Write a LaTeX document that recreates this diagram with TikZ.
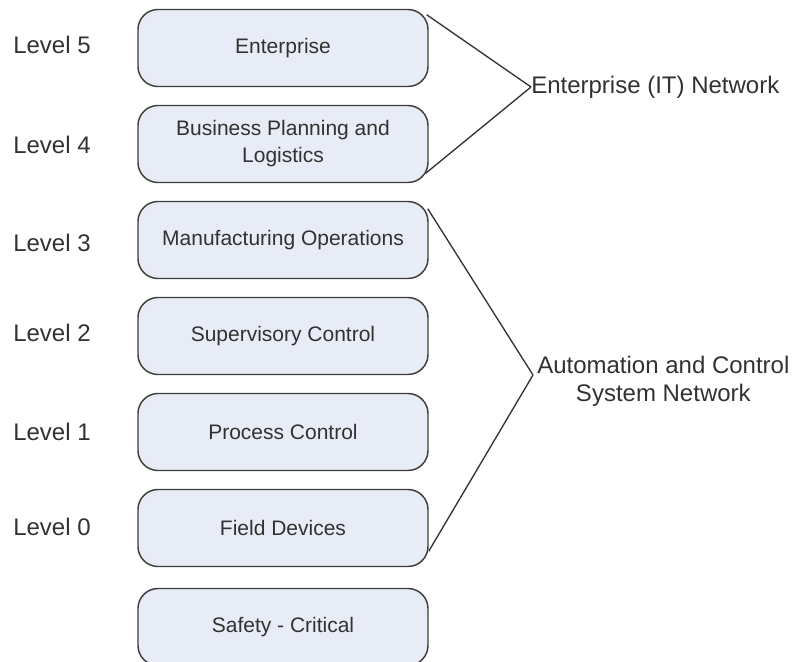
\documentclass[tikz,border=0pt]{standalone}
\usepackage{fontspec}
\setmainfont{Liberation Sans}
\usepackage{xcolor}
\usepackage{tikz}
\usetikzlibrary{positioning}
\definecolor{tierfill}{RGB}{232,236,246}
\definecolor{tierline}{RGB}{62,62,62}
\definecolor{inktext}{RGB}{50,50,50}
\tikzset{
  % --- hierarchy tiers -------------------------------------------------------
  tier/.style={rectangle,rounded corners=15pt,draw=tierline,fill=tierfill,
               line width=1.1pt,minimum width=217.5pt,minimum height=57.75pt,
               align=center,text=inktext,
               font=\fontsize{15.75}{20.25}\selectfont},
  % --- side labels -----------------------------------------------------------
  lvl/.style={anchor=west,inner sep=0pt,text=inktext,
              font=\fontsize{18}{21}\selectfont},
  netlab/.style={anchor=west,inner sep=0pt,align=center,text=inktext,
                 font=\fontsize{18}{21}\selectfont},
  % --- grouping lines --------------------------------------------------------
  span/.style={black!80,line width=1pt},
}

\begin{document}
\begin{tikzpicture}[x=0.75pt, y=-0.75pt]
  \useasboundingbox (0,0) rectangle (793,661);
  \clip (0,0) rectangle (793,661);

  \node[tier] (t5) at (283,48)  {Enterprise};
  \node[tier] (t4) at (283,144) {Business Planning and\\Logistics};
  \node[tier] (t3) at (283,240) {Manufacturing Operations};
  \node[tier] (t2) at (283,336) {Supervisory Control};
  \node[tier] (t1) at (283,432) {Process Control};
  \node[tier] (t0) at (283,528) {Field Devices};
  \node[tier] (ts) at (283,627) {Safety - Critical};

  \node[lvl] (l5) at (13,45)  {Level 5};
  \node[lvl] (l4) at (13,145) {Level 4};
  \node[lvl] (l3) at (13,243) {Level 3};
  \node[lvl] (l2) at (13,333) {Level 2};
  \node[lvl] (l1) at (13,432) {Level 1};
  \node[lvl] (l0) at (13,527) {Level 0};

  \node[netlab] (itnet)  at (531,87)  {Enterprise (IT) Network};
  \node[netlab] (acsnet) at (537,381) {Automation and Control\\System Network};
  \coordinate (acsapex) at ([shift={(-4,-6)}]acsnet.west);

  \draw[span] ([shift={(-2,6)}]t5.north east) -- (itnet.west);
  \draw[span] ([shift={(-3,-10)}]t4.south east) -- (itnet.west);
  \draw[span] ([shift={(-1,8)}]t3.north east) -- (acsapex);
  \draw[span] ([shift={(0,-16)}]t0.south east) -- (acsapex);
\end{tikzpicture}
\end{document}
